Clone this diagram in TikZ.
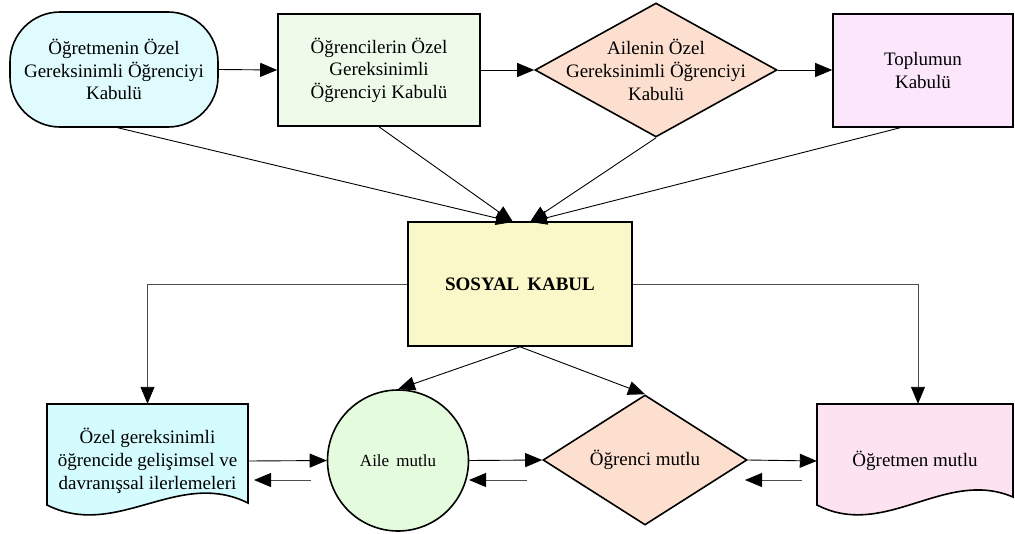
\documentclass[tikz,border=0pt]{standalone}
\usepackage{fontspec}
\setmainfont{Liberation Serif}
\usetikzlibrary{shapes.geometric,arrows.meta}
\definecolor{cterm}{HTML}{DFFBFD}
\definecolor{crect}{HTML}{EEFBEA}
\definecolor{cpeach}{HTML}{FDDFCF}
\definecolor{clav}{HTML}{FCE6FC}
\definecolor{cyel}{HTML}{FAF8C8}
\definecolor{cdoc}{HTML}{D4FBFD}
\definecolor{ccirc}{HTML}{E4FBDD}
\definecolor{cpink}{HTML}{FDE3F1}
\tikzset{
  shp/.style={draw=black, line width=1.6pt, font=\fontsize{19}{22.5}\selectfont, align=center, inner sep=0pt},
  conn/.style={line width=0.9pt, draw=black, -{Triangle[length=17pt,width=14pt,color=black]}},
  connb/.style={line width=0.9pt, draw=black!70, -{Triangle[length=17pt,width=14pt,color=black]}},
  txt/.style={font=\fontsize{19}{23}\selectfont, align=center, inner sep=0pt}
}
\begin{document}
\begin{tikzpicture}[x=1pt,y=-1pt]
\useasboundingbox (0,0) rectangle (1015,533);
% top row
\node[shp, fill=cterm, minimum width=208pt, minimum height=115pt, rounded corners=50pt] (t1) at (114,69.5)
  {Öğretmenin Özel\\Gereksinimli Öğrenciyi\\Kabulü};
\node[shp, fill=crect, minimum width=202pt, minimum height=112pt] (r2) at (379,70)
  {Öğrencilerin Özel\\Gereksinimli\\Öğrenciyi Kabulü};
\node[shp, diamond, fill=cpeach, minimum width=242pt, minimum height=134pt,
  label={[txt]center:{Ailenin Özel\\Gereksinimli Öğrenciyi\\Kabulü}}] (d1) at (656,70) {};
\node[shp, fill=clav, minimum width=180pt, minimum height=113pt] (tp) at (923,70.5)
  {Toplumun\\Kabulü};
% center
\node[shp, fill=cyel, minimum width=224pt, minimum height=124pt, font=\fontsize{19}{22}\selectfont\bfseries] (sk) at (520,284)
  {SOSYAL\, KABUL};
% bottom row documents
\path[draw=black, line width=1.6pt, fill=cdoc] (47,404) -- (248,404) -- (248,503)
  .. controls (178,468) and (117,540) .. (47,505) -- cycle;
\path[draw=black, line width=1.6pt, fill=cpink] (817,404) -- (1013,404) -- (1013,497)
  .. controls (945,468) and (885,540) .. (817,505) -- cycle;
\node[txt, minimum width=201pt, minimum height=114pt] (doc1) at (147.5,461)
  {Özel gereksinimli\\öğrencide gelişimsel ve\\davranışsal ilerlemeleri};
\node[txt, minimum width=196pt, minimum height=114pt] (doc2) at (915,461) {Öğretmen mutlu};
\node[shp, circle, fill=ccirc, minimum size=141pt, font=\fontsize{17}{20}\selectfont] (ci) at (398,460.5) {Aile\, mutlu};
\node[shp, diamond, fill=cpeach, minimum width=204pt, minimum height=130pt,
  label={[txt]center:{Öğrenci mutlu}}] (d2) at (645,460) {};
% coordinates
\coordinate (sk1) at (513,222);
\coordinate (sk2) at (530,222);
\coordinate (b1s) at (311,480); \coordinate (b1e) at (254,480);
\coordinate (b2s) at (527,480); \coordinate (b2e) at (469,480);
\coordinate (b3s) at (802,480); \coordinate (b3e) at (745,480);
% top connectors
\draw[conn] (t1.east) -- (r2.west);
\draw[conn] (r2.east) -- (d1.west);
\draw[conn] (d1.east) -- (tp.west |- d1.east);
% converging
\draw[conn] ([xshift=4pt]t1.south) -- (sk1);
\draw[conn] (r2.south) -- (sk1);
\draw[conn] (d1.south) -- (sk2);
\draw[conn] ([xshift=-23pt]tp.south) -- (sk2);
% elbows
\draw[connb] (sk.west) -| (doc1.north);
\draw[connb] (sk.east) -| ([xshift=3pt]doc2.north);
% from center down
\draw[conn] (sk.south) -- (ci.north);
\draw[conn] (sk.south) -- (d2.north);
% bottom horizontal
\draw[conn] (doc1.east) -- (ci.west);
\draw[conn] (ci.east) -- (d2.west);
\draw[conn] (d2.east) -- (doc2.west);
\draw[connb] (b1s) -- (b1e);
\draw[connb] (b2s) -- (b2e);
\draw[connb] (b3s) -- (b3e);
\end{tikzpicture}
\end{document}
